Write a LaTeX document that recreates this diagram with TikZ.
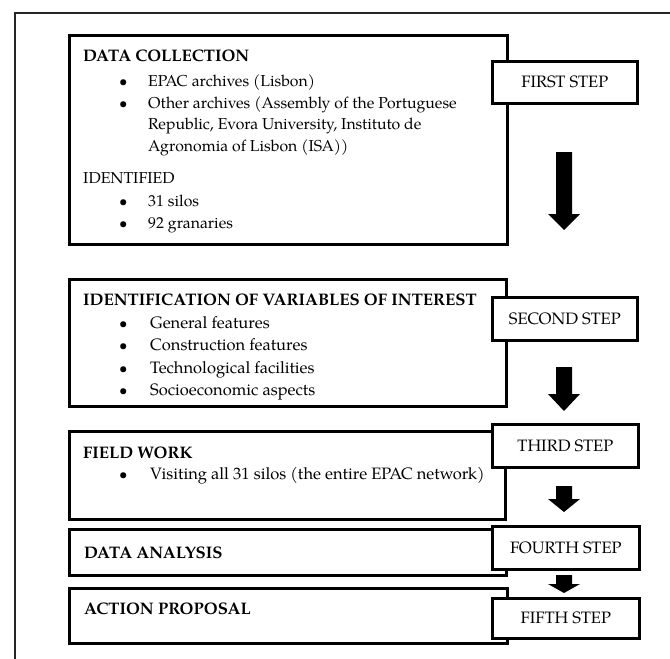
\documentclass[tikz,border=0pt]{standalone}
\usepackage{fontspec}
\setmainfont{TeX Gyre Pagella}
\usetikzlibrary{calc}
\newcommand\blockarrow[3]{%
  \fill (#2) -- ($(#2)+(-16,-#3)$) -- ($(#2)+(-8,-#3)$) -- ($(#1)+(-8,0)$)
    -- ($(#1)+(8,0)$) -- ($(#2)+(8,-#3)$) -- ($(#2)+(16,-#3)$) -- cycle;}
\begin{document}
\begin{tikzpicture}[x=1pt,y=-1pt,
  mainbox/.style={draw, line width=2.6pt, anchor=north west, inner sep=0pt},
  stepbox/.style={draw, fill=white, line width=2.6pt, anchor=north west, inner sep=0pt,
    font=\fontsize{16.5}{18}\selectfont},
  txt/.style={anchor=base west, inner sep=0pt, font=\fontsize{16.5}{18}\selectfont},
  txta/.style={anchor=base west, inner sep=0pt, font=\fontsize{15.8}{18}\selectfont},
  head/.style={anchor=base west, inner sep=0pt, font=\fontsize{16.7}{18}\selectfont\bfseries},
  bul/.style={anchor=base west, inner sep=0pt, font=\fontsize{15}{18}\selectfont}]
\useasboundingbox (0,0) rectangle (670,659);
\draw[line width=1.2pt, black!85] (15,659) -- (15,13) -- (670,13);

% main boxes
\node[mainbox, minimum width=438, minimum height=209] (b1) at (68,34) {};
\node[mainbox, minimum width=437, minimum height=127] (b2) at (68,278) {};
\node[mainbox, minimum width=436, minimum height=88] (b3) at (68,430) {};
\node[mainbox, minimum width=437, minimum height=46] (b4) at (68,528) {};
\node[mainbox, minimum width=438, minimum height=55] (b5) at (68,587) {};

% step boxes
\node[stepbox, minimum width=145, minimum height=42] (s1) at (491,60) {FIRST STEP};
\node[stepbox, minimum width=145, minimum height=43] (s2) at (491,296) {SECOND STEP};
\node[stepbox, minimum width=146, minimum height=43] (s3) at (491,423) {THIRD STEP};
\node[stepbox, minimum width=147, minimum height=43] (s4) at (491,525) {FOURTH STEP};
\node[stepbox, minimum width=147, minimum height=40] (s5) at (491,597) {FIFTH STEP};

% box 1 text
\node[head] (h1) at (83,61) {DATA COLLECTION};
\node[bul] (p1a) at (119,86) {\textbullet};
\node[txta] (t1a) at (148,86) {EPAC archives (Lisbon)};
\node[bul] (p1b) at (119,108) {\textbullet};
\node[txta] (t1b) at (148,108) {Other archives (Assembly of the Portuguese};
\node[txta] (t1c) at (148,129) {Republic, Evora University, Instituto de};
\node[txta] (t1d) at (148,151) {Agronomia of Lisbon (ISA))};
\node[txta] (h1b) at (83,183) {IDENTIFIED};
\node[bul] (p1c) at (119,206) {\textbullet};
\node[txta] (t1e) at (148,206) {31 silos};
\node[bul] (p1d) at (119,228) {\textbullet};
\node[txta] (t1f) at (148,228) {92 granaries};

% box 2 text
\node[head] (h2) at (83,305) {IDENTIFICATION OF VARIABLES OF INTEREST};
\node[bul] (p2a) at (119,328) {\textbullet};
\node[txt] (t2a) at (150,328) {General features};
\node[bul] (p2b) at (119,350) {\textbullet};
\node[txt] (t2b) at (150,350) {Construction features};
\node[bul] (p2c) at (119,373) {\textbullet};
\node[txt] (t2c) at (150,373) {Technological facilities};
\node[bul] (p2d) at (119,395) {\textbullet};
\node[txt] (t2d) at (150,395) {Socioeconomic aspects};

% box 3 text
\node[head] (h3) at (83,458) {FIELD WORK};
\node[bul] (p3a) at (119,479) {\textbullet};
\node[txt] (t3a) at (150,479) {Visiting all 31 silos (the entire EPAC network)};

% box 4, 5 text
\node[head] (h4) at (84,558) {DATA ANALYSIS};
\node[head] (h5) at (84,614) {ACTION PROPOSAL};

% block arrows
\coordinate (a1top) at (564,152); \coordinate (a1tip) at (564,230);
\coordinate (a2top) at (564,367); \coordinate (a2tip) at (564,411);
\coordinate (a3top) at (564,486); \coordinate (a3tip) at (564,512);
\coordinate (a4top) at (564,575); \coordinate (a4tip) at (564,593);
\blockarrow{a1top}{a1tip}{16}
\blockarrow{a2top}{a2tip}{17}
\blockarrow{a3top}{a3tip}{13}
\blockarrow{a4top}{a4tip}{9}
\end{tikzpicture}
\end{document}
